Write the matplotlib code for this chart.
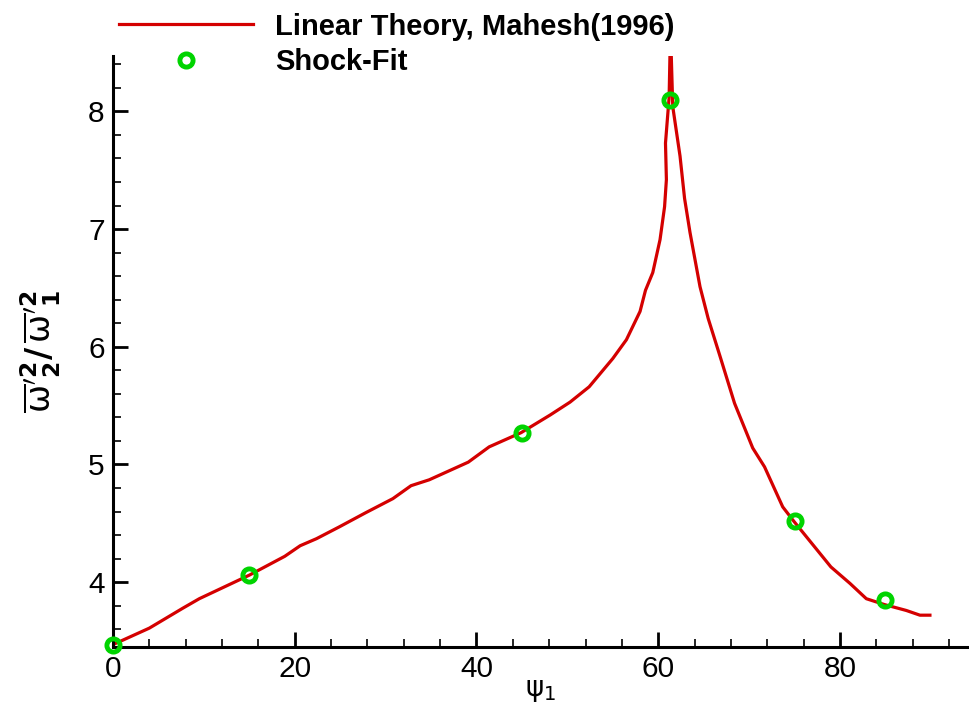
import matplotlib
matplotlib.use("Agg")
import matplotlib.pyplot as plt
from matplotlib.ticker import MultipleLocator

plt.rcParams['font.family'] = ['Liberation Sans', 'DejaVu Sans']
plt.rcParams['mathtext.fontset'] = 'dejavusans'

# Linear theory (Mahesh 1996)
theory_psi = [0.0, 4.0, 7.7, 9.5, 11.7, 15.0, 18.9, 20.6, 22.4, 24.9, 27.8, 30.8,
              32.8, 34.8, 39.1, 41.4, 44.9, 48.1, 50.3, 52.4, 55.0, 56.5, 58.0,
              58.6, 59.4, 60.2, 60.7, 60.9, 60.8, 61.2, 61.35, 61.6, 62.4, 62.9,
              63.5, 64.6, 65.5, 66.8, 68.4, 70.4, 71.7, 73.7, 74.9, 79.0, 81.1,
              82.9, 84.9, 87.3, 88.8, 89.9]
theory_ratio = [3.47, 3.61, 3.78, 3.86, 3.94, 4.06, 4.22, 4.31, 4.37, 4.47, 4.59, 4.71,
                4.82, 4.87, 5.02, 5.15, 5.27, 5.42, 5.53, 5.66, 5.90, 6.06, 6.30,
                6.48, 6.63, 6.91, 7.19, 7.42, 7.73, 8.12, 8.70, 8.04, 7.62, 7.26,
                6.97, 6.51, 6.24, 5.92, 5.52, 5.14, 4.98, 4.64, 4.52, 4.13, 3.99,
                3.86, 3.81, 3.76, 3.72, 3.72]

# Shock-fit results
fit_psi = [0.0, 15.0, 45.0, 61.3, 75.0, 85.0]
fit_ratio = [3.47, 4.06, 5.27, 8.10, 4.52, 3.85]

fig = plt.figure(figsize=(9.69, 7.09), dpi=100)
ax = fig.add_axes([0.1166, 0.0875, 0.8834, 0.8335])

ax.plot(theory_psi, theory_ratio, color='#d40000', lw=2.3,
        label='Linear Theory, Mahesh(1996)', zorder=2)
ax.plot(fit_psi, fit_ratio, linestyle='none', marker='o', ms=9.5,
        mfc='none', mec='#00d400', mew=3.5, label='Shock-Fit', zorder=3,
        clip_on=False)

ax.set_xlim(0, 94.2)
ax.set_ylim(3.45, 8.47)
ax.xaxis.set_major_locator(MultipleLocator(20))
ax.xaxis.set_minor_locator(MultipleLocator(4))
ax.yaxis.set_major_locator(MultipleLocator(1))
ax.yaxis.set_minor_locator(MultipleLocator(0.2))

for s in ['top', 'right']:
    ax.spines[s].set_visible(False)
for s in ['left', 'bottom']:
    ax.spines[s].set_linewidth(2.2)

ax.tick_params(which='major', direction='in', length=11, width=2, labelsize=21.5, pad=6)
ax.tick_params(which='minor', direction='in', length=6, width=1.2)

ax.set_xlabel(r'$\mathrm{\psi}_1$', fontsize=20, labelpad=-4)
ax.set_ylabel(r"$\mathrm{\overline{\omega}}'^{\mathbf{2}}_{\mathbf{2}}\mathbf{/}\,\mathrm{\overline{\omega}}'^{\mathbf{2}}_{\mathbf{1}}$",
              fontsize=24, labelpad=18)

leg = fig.legend(loc='upper left', bbox_to_anchor=(0.102, 1.011), frameon=False,
                 prop={'weight': 'bold', 'size': 21}, handlelength=4.6,
                 handletextpad=0.75, labelspacing=0.25, borderaxespad=0.3)

fig.savefig('out.png', dpi=100)
